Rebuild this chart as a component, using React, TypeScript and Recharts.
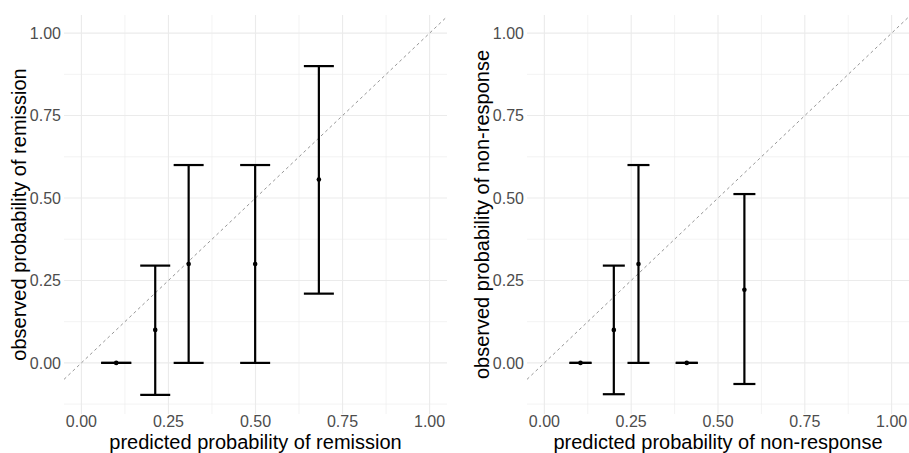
import { ErrorBar, ReferenceLine, Scatter, ScatterChart, XAxis, YAxis } from "recharts";

// calibration bins: predicted vs observed probability with 95% intervals
const remissionPredicted = [0.1, 0.212, 0.308, 0.499, 0.682];
const remissionObserved = [0, 0.1, 0.3, 0.3, 0.556];
const remissionLower = [0, -0.097, 0, 0, 0.21];
const remissionUpper = [0, 0.295, 0.6, 0.6, 0.9];

const nonResponsePredicted = [0.104, 0.2, 0.271, 0.41, 0.576];
const nonResponseObserved = [0, 0.1, 0.3, 0, 0.222];
const nonResponseLower = [0, -0.095, 0, 0, -0.064];
const nonResponseUpper = [0, 0.295, 0.6, 0, 0.512];

const axisTicks = [0, 0.25, 0.5, 0.75, 1];
const minorX = [0.125, 0.375, 0.625, 0.875];
const minorY = [-0.125, 0.125, 0.375, 0.625, 0.875];

const X_DOMAIN: [number, number] = [-0.05, 1.05];
const Y_DOMAIN: [number, number] = [-0.155, 1.055];

const FONT = "'Liberation Sans', Arial, sans-serif";
const GRID = "#EBEBEB";

function buildRows(pred: number[], obs: number[], lo: number[], hi: number[]) {
  return pred.map((x, i) => ({
    x,
    y: obs[i],
    err: [obs[i] - lo[i], hi[i] - obs[i]],
  }));
}

const Dot = (props: any) => <circle cx={props.cx} cy={props.cy} r={2.3} fill="#000" />;

interface PanelProps {
  width: number;
  rightMargin: number;
  capWidth: number;
  xTitle: string;
  yTitle: string;
  rows: ReturnType<typeof buildRows>;
}

function CalibrationPanel({ width, rightMargin, capWidth, xTitle, yTitle, rows }: PanelProps) {
  const height = 453;
  return (
    <ScatterChart
      width={width}
      height={height}
      margin={{ top: 15, right: rightMargin, bottom: 0, left: 0 }}
    >
      <XAxis
        type="number"
        dataKey="x"
        domain={X_DOMAIN}
        allowDataOverflow
        ticks={axisTicks}
        tickFormatter={(v: number) => v.toFixed(2)}
        axisLine={false}
        tickLine={false}
        tickSize={0}
        tickMargin={2}
        height={39}
        tick={{ fill: "#4D4D4D", fontSize: 16, fontFamily: FONT }}
        label={{
          value: xTitle,
          position: "insideBottom",
          offset: 4,
          fill: "#000",
          fontSize: 20,
          fontFamily: FONT,
        }}
      />
      <YAxis
        type="number"
        dataKey="y"
        domain={Y_DOMAIN}
        allowDataOverflow
        ticks={axisTicks}
        tickFormatter={(v: number) => v.toFixed(2)}
        axisLine={false}
        tickLine={false}
        tickSize={0}
        tickMargin={3}
        width={64}
        tick={{ fill: "#4D4D4D", fontSize: 16, fontFamily: FONT }}
        label={{
          content: (p: any) => {
            const vb = p.viewBox;
            const cx = 25.5;
            const cy = vb.y + vb.height / 2;
            return (
              <text
                x={cx}
                y={cy}
                transform={`rotate(-90, ${cx}, ${cy})`}
                textAnchor="middle"
                fill="#000"
                fontSize={20}
                fontFamily={FONT}
              >
                {yTitle}
              </text>
            );
          },
        }}
      />
      {minorY.map((v) => (
        <ReferenceLine key={`my${v}`} y={v} stroke={GRID} strokeWidth={0.6} />
      ))}
      {minorX.map((v) => (
        <ReferenceLine key={`mx${v}`} x={v} stroke={GRID} strokeWidth={0.6} />
      ))}
      {axisTicks.map((v) => (
        <ReferenceLine key={`gy${v}`} y={v} stroke={GRID} strokeWidth={1.1} />
      ))}
      {axisTicks.map((v) => (
        <ReferenceLine key={`gx${v}`} x={v} stroke={GRID} strokeWidth={1.1} />
      ))}
      <ReferenceLine
        segment={[
          { x: X_DOMAIN[0], y: X_DOMAIN[0] },
          { x: X_DOMAIN[1], y: X_DOMAIN[1] },
        ]}
        stroke="#8a8a8a"
        strokeWidth={0.9}
        strokeDasharray="3 3"
      />
      <Scatter data={rows} dataKey="y" shape={Dot} isAnimationActive={false}>
        <ErrorBar
          dataKey="err"
          direction="y"
          width={capWidth}
          stroke="#000"
          strokeWidth={2.2}
          isAnimationActive={false}
        />
      </Scatter>
    </ScatterChart>
  );
}

export default function App() {
  return (
    <div
      style={{
        position: "absolute",
        left: 0,
        top: 0,
        width: 909,
        height: 453,
        display: "flex",
        background: "#fff",
      }}
    >
      <CalibrationPanel
        width={463}
        rightMargin={16}
        capWidth={15}
        xTitle="predicted probability of remission"
        yTitle="observed probability of remission"
        rows={buildRows(remissionPredicted, remissionObserved, remissionLower, remissionUpper)}
      />
      <CalibrationPanel
        width={446}
        rightMargin={0}
        capWidth={11}
        xTitle="predicted probability of non-response"
        yTitle="observed probability of non-response"
        rows={buildRows(nonResponsePredicted, nonResponseObserved, nonResponseLower, nonResponseUpper)}
      />
    </div>
  );
}
